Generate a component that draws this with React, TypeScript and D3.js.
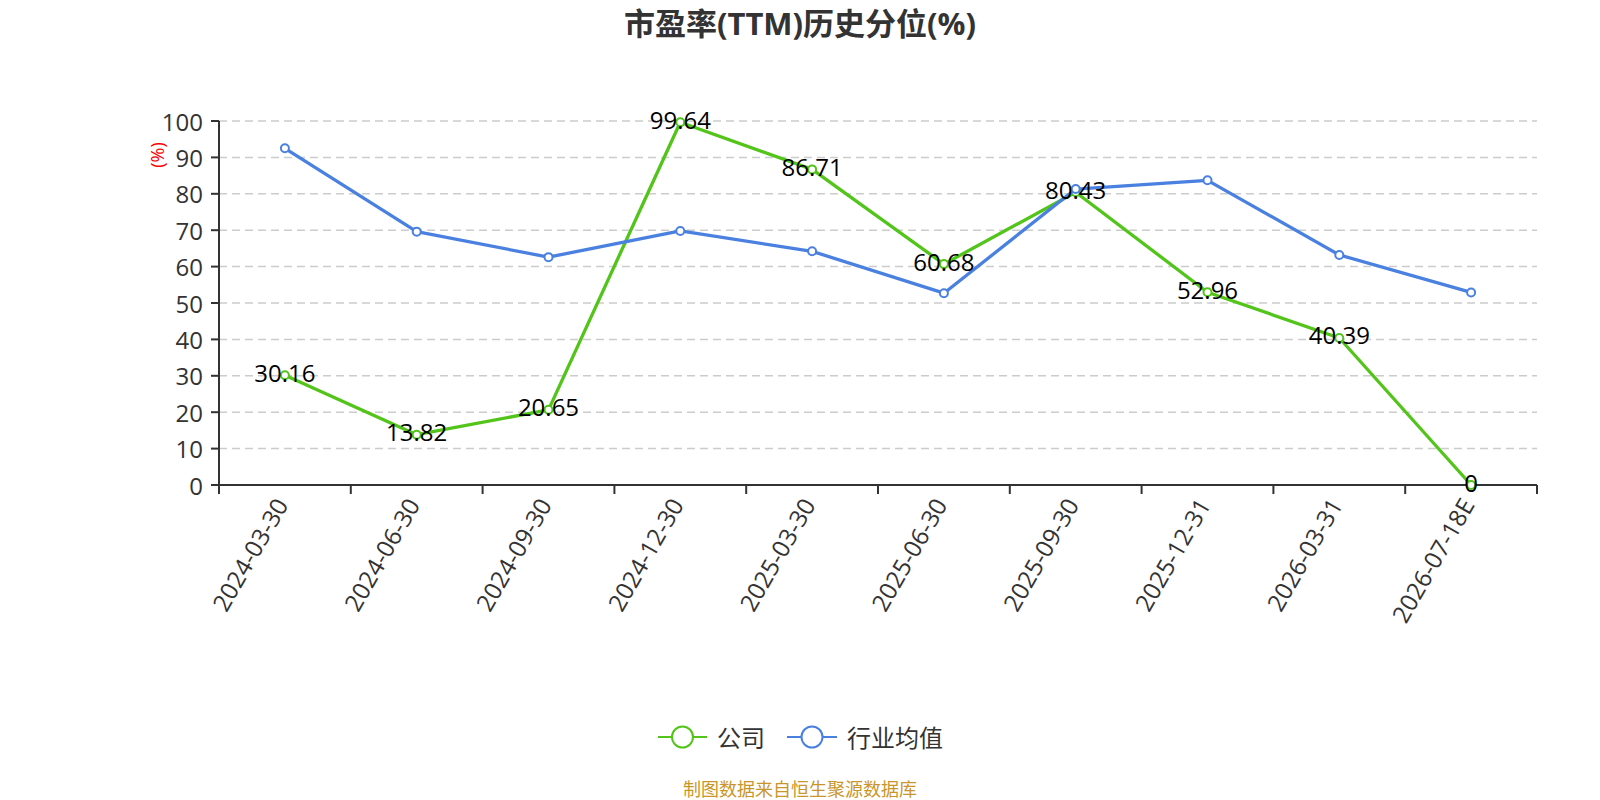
import React from "react";
import * as d3 from "d3";

const categories = [
  "2024-03-30",
  "2024-06-30",
  "2024-09-30",
  "2024-12-30",
  "2025-03-30",
  "2025-06-30",
  "2025-09-30",
  "2025-12-31",
  "2026-03-31",
  "2026-07-18E",
];
const companyValues = [30.16, 13.82, 20.65, 99.64, 86.71, 60.68, 80.43, 52.96, 40.39, 0];
const industryValues = [92.5, 69.6, 62.6, 69.8, 64.2, 52.7, 81.3, 83.7, 63.2, 52.9];
const yTicks = [0, 10, 20, 30, 40, 50, 60, 70, 80, 90, 100];
const seriesNames = ["公司", "行业均值"];
const title = "市盈率(TTM)历史分位(%)";
const yUnit = "(%)";
const sourceText = "制图数据来自恒生聚源数据库";

const GREEN = "#52c41a";
const BLUE = "#4a80e0";
const FONT = "'Open Sans', 'Noto Sans CJK SC', sans-serif";

export default function App() {
  const W = 1600;
  const H = 800;
  const left = 219;
  const right = 1537;
  const top = 121;
  const bottom = 485;

  const x = d3.scaleBand<string>().domain(categories).range([left, right]).padding(0);
  const y = d3.scaleLinear().domain([0, 100]).range([bottom, top]);
  const cx = (c: string) => (x(c) as number) + x.bandwidth() / 2;

  const line = d3
    .line<number>()
    .x((_, i) => cx(categories[i]))
    .y((d) => y(d));

  const series = [
    { name: seriesNames[0], values: companyValues, color: GREEN },
    { name: seriesNames[1], values: industryValues, color: BLUE },
  ];

  const boundaries = categories.map((c) => x(c) as number).concat([right]);

  return (
    <svg
      width={W}
      height={H}
      style={{ position: "fixed", left: 0, top: 0, background: "#fff" }}
      fontFamily={FONT}
    >
      <text x={800} y={23} textAnchor="middle" dominantBaseline="central" fontSize={31} fontWeight="bold" fill="#333">
        {title}
      </text>

      {/* grid */}
      {yTicks.map((t) =>
        t === 0 ? null : (
          <line key={"g" + t} x1={left} x2={right} y1={y(t)} y2={y(t)} stroke="#ccc" strokeWidth={1.5} strokeDasharray="8,5" />
        )
      )}

      {/* y axis */}
      <line x1={left} x2={left} y1={top} y2={bottom} stroke="#333" strokeWidth={2} />
      {yTicks.map((t) => (
        <g key={"yt" + t}>
          <line x1={left - 8} x2={left} y1={y(t)} y2={y(t)} stroke="#333" strokeWidth={2} />
          <text x={left - 16} y={y(t)} textAnchor="end" dominantBaseline="central" fontSize={24} fill="#333">
            {t}
          </text>
        </g>
      ))}
      <text
        transform={`translate(157,${155}) rotate(-90)`}
        textAnchor="middle"
        dominantBaseline="central"
        fontSize={18}
        fill="red"
      >
        {yUnit}
      </text>

      {/* x axis */}
      <line x1={left} x2={right} y1={bottom} y2={bottom} stroke="#333" strokeWidth={2} />
      {boundaries.map((b, i) => (
        <line key={"xt" + i} x1={b} x2={b} y1={bottom} y2={bottom + 9} stroke="#333" strokeWidth={2} />
      ))}
      {categories.map((c) => (
        <text
          key={"xl" + c}
          transform={`translate(${cx(c) - 4},${bottom + 15}) rotate(-60)`}
          textAnchor="end"
          dominantBaseline="central"
          fontSize={24}
          fill="#333"
        >
          {c}
        </text>
      ))}

      {/* lines */}
      {series.map((s) => (
        <g key={"s" + s.name}>
          <path d={line(s.values) || ""} fill="none" stroke={s.color} strokeWidth={3.3} strokeLinejoin="round" />
          {s.values.map((v, i) => (
            <circle key={i} cx={cx(categories[i])} cy={y(v)} r={4} fill="#fff" stroke={s.color} strokeWidth={2} />
          ))}
        </g>
      ))}

      {/* data labels */}
      {companyValues.map((v, i) => (
        <text
          key={"dl" + i}
          x={cx(categories[i])}
          y={y(v) - 3}
          textAnchor="middle"
          dominantBaseline="central"
          fontSize={24}
          fill="#000"
        >
          {String(v)}
        </text>
      ))}

      {/* legend */}
      <g>
        <line x1={658} x2={707} y1={737} y2={737} stroke={GREEN} strokeWidth={2} />
        <circle cx={682.5} cy={737} r={10.5} fill="#fff" stroke={GREEN} strokeWidth={2} />
        <text x={717} y={737} dominantBaseline="central" fontSize={24} fill="#333">
          {seriesNames[0]}
        </text>
        <line x1={787} x2={837} y1={737} y2={737} stroke={BLUE} strokeWidth={2} />
        <circle cx={812} cy={737} r={10.5} fill="#fff" stroke={BLUE} strokeWidth={2} />
        <text x={847} y={737} dominantBaseline="central" fontSize={24} fill="#333">
          {seriesNames[1]}
        </text>
      </g>

      <text x={800} y={789} textAnchor="middle" dominantBaseline="central" fontSize={18} fill="#c9962b">
        {sourceText}
      </text>
    </svg>
  );
}
